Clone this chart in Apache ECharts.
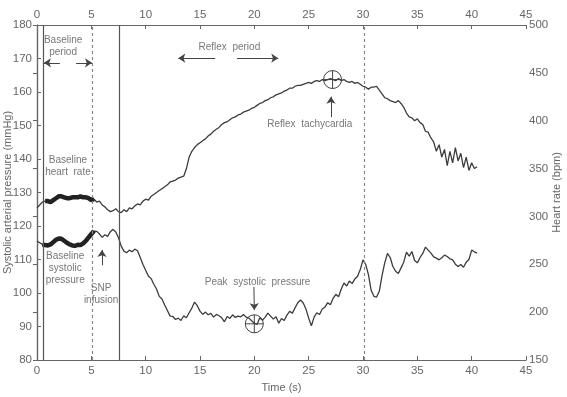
<!DOCTYPE html>
<html>
<head>
<meta charset="utf-8">
<script src="https://cdn.jsdelivr.net/npm/echarts@6/dist/echarts.min.js"></script>
<style>
  html, body { margin: 0; padding: 0; background: #fff; }
  #chart { width: 567px; height: 397px; }
</style>
</head>
<body>
<div id="chart"></div>
<script>
// sampling step of the traces (s)
const step = 0.25;

// heart rate trace (bpm), one value every 0.25 s from t = 0
const heartRate = [
  309, 312, 315, 316,  316, 315, 317, 319,  321, 321, 320, 319,  319, 320, 320, 320,
  321, 320, 320, 319,  317, 318, 315, 316,  312, 310, 307, 305,  306, 308, 305, 304,
  307, 305, 309, 308,  311, 313, 312, 316,  318, 317, 321, 323,  325, 327, 329, 331,
  333, 336, 337, 338,  340, 341, 342, 350,  362, 368, 372, 375,  377, 379, 381, 384,
  386, 389, 391, 393,  396, 398, 399, 401,  403, 404, 406, 407,  409, 410, 411, 413,
  414, 416, 418, 419,  421, 422, 424, 425,  427, 428, 429, 431,  432, 434, 434, 436,
  437, 437, 438, 439,  440, 439, 441, 442,  441, 443, 442, 443,  444, 443, 442, 444,
  442, 443, 441, 440,  441, 439, 440, 438,  436, 435, 433, 435,  435, 436, 432, 428,
  424, 423, 421, 420,  419, 421, 418, 414,  408, 404, 403, 400,  402, 398, 396, 389,
  388, 382, 378, 368,  375, 362, 370, 353,  368, 356, 372, 358,  366, 351, 362, 348,
  356, 350, 352
];

// systolic arterial pressure trace (mmHg), one value every 0.25 s from t = 0
const systolic = [
  115.5, 115.0, 114.5, 114.3,  114.2, 114.5, 115.2, 115.9,  116.3, 116.2, 115.6, 115.0,
  114.5, 114.2, 114.1, 114.4,  114.3, 114.8, 115.6, 116.6,  117.6, 118.5, 118.4, 117.6,
  116.6, 117.4, 116.9, 118.3,  119.0, 118.2, 116.5, 114.0,  112.5, 112.0, 112.8, 112.3,
  113.1, 112.6, 110.6, 108.5,  106.8, 105.1, 104.3, 102.6,  101.2, 99.0, 98.2, 96.4,
  94.8, 93.1, 93.0, 92.1,  92.5, 91.8, 93.2, 92.6,  94.1, 95.5, 97.3, 96.2,
  94.6, 93.6, 94.3, 93.5,  93.9, 92.8, 93.6, 93.2,  92.6, 91.4, 93.0, 92.4,
  93.5, 92.7, 93.1, 92.9,  93.6, 92.8, 92.5, 91.7,  91.0, 90.6, 92.6, 91.9,
  92.8, 94.0, 93.1, 92.2,  92.9, 91.0, 92.4, 91.8,  93.4, 94.5, 94.0, 95.6,
  97.1, 97.9, 97.0, 95.2,  92.5, 90.2, 92.8, 94.1,  93.6, 95.2, 95.8, 97.1,
  96.5, 98.4, 99.6, 98.9,  101.2, 103.0, 102.1, 103.6,  102.8, 104.2, 105.0, 107.0,
  109.9, 108.5, 105.5, 100.8,  99.0, 98.8, 100.5, 105.2,  109.0, 111.8, 110.6, 107.9,
  106.5, 105.8, 107.5, 109.2,  112.2, 111.0, 112.4, 109.7,  109.0, 110.6, 111.8, 113.7,
  112.8, 111.9, 110.8, 110.4,  109.9, 110.5, 111.3, 110.9,  110.2, 109.9, 108.6, 107.9,
  108.5, 107.7, 109.2, 110.0,  112.8, 112.3, 111.9
];

// baseline samples drawn thick (index range)
const baselineStart = 2;
const baselineEnd = 22;

// event markers on the time axis (s)
const solidLines = [0.58, 7.55];
const dashedLines = [5.1, 30.1];

// text notes [time, mmHg]
const notes = [
  ['Baseline\nperiod', 2.4, 173.7],
  ['Reflex  period', 17.7, 173.4],
  ['Reflex  tachycardia', 25.1, 150.4],
  ['Peak  systolic  pressure', 20.3, 103.3],
  ['Baseline\nheart  rate', 2.85, 137.8],
  ['Baseline\nsystolic\npressure', 2.6, 107.4],
  ['SNP\ninfusion', 5.9, 99.6]
];

// arrows [fromTime, fromMmHg, toTime, toMmHg]
const arrows = [
  [2.1, 168.7, 0.64, 168.7],
  [3.6, 168.7, 5.06, 168.7],
  [16.4, 170.1, 13.0, 170.1],
  [18.4, 170.1, 22.2, 170.1],
  [27.05, 152.5, 27.05, 158.6],
  [19.96, 101.8, 20.0, 94.9],
  [5.98, 108.3, 5.98, 112.8]
];

// circled points
const peakHeart = [27.2, 443];
const peakSystolic = [20.0, 90.8];

const toPairs = arr => arr.map((v, i) => [i * step, v]);

const chart = echarts.init(document.getElementById('chart'));

const fontFamily = 'Liberation Sans, Arial, sans-serif';
const grey = '#666';
const traceColor = '#3c3c3c';
const crossCircle = 'path://M0,-10A10,10,0,1,1,0,10A10,10,0,1,1,0,-10ZM0,-10L0,10M-10,0L10,0';

// shared axis look; label margin differs per side
const axisStyle = margin => ({
  axisLine: { show: true, lineStyle: { color: grey, width: 1.2 } },
  axisTick: { show: true, inside: true, length: 4, lineStyle: { color: grey } },
  axisLabel: { color: grey, fontSize: 11.5, fontFamily: fontFamily, margin: margin },
  splitLine: { show: false },
  nameMoveOverlap: false,
  nameTextStyle: { color: grey, fontSize: 11, fontFamily: fontFamily }
});

const option = {
  animation: false,
  backgroundColor: '#fff',
  grid: { left: 37, right: 41, top: 25, bottom: 37, outerBoundsMode: 'none', containLabel: false },
  xAxis: [
    Object.assign(axisStyle(5), {
      type: 'value', min: 0, max: 45, interval: 5, position: 'bottom',
      name: 'Time (s)', nameLocation: 'middle', nameGap: 22
    }),
    Object.assign(axisStyle(4), {
      type: 'value', min: 0, max: 45, interval: 5, position: 'top'
    })
  ],
  yAxis: [
    Object.assign(axisStyle(5), {
      type: 'value', min: 80, max: 180, interval: 10, position: 'left',
      name: 'Systolic arterial pressure (mmHg)', nameLocation: 'middle', nameGap: 24
    }),
    Object.assign(axisStyle(3), {
      type: 'value', min: 150, max: 500, interval: 50, position: 'right',
      name: 'Heart rate (bpm)', nameLocation: 'middle', nameGap: 25
    })
  ],
  series: [
    {
      name: 'Systolic pressure',
      type: 'line',
      xAxisIndex: 0, yAxisIndex: 0,
      data: toPairs(systolic),
      showSymbol: false,
      lineStyle: { color: traceColor, width: 1.3 },
      markLine: {
        silent: true,
        symbol: 'none',
        label: { show: false },
        data: solidLines.map(t => ({ xAxis: t, lineStyle: { color: '#555', type: 'solid', width: 1.2 } }))
          .concat(dashedLines.map(t => ({ xAxis: t, lineStyle: { color: '#888', type: [3, 3], width: 1.2 } })))
      },
      markPoint: {
        silent: true,
        data: notes.map(n => ({
          coord: [n[1], n[2]],
          symbolSize: 0,
          label: {
            show: true, position: 'inside', formatter: n[0],
            color: '#777', fontSize: 10, fontFamily: fontFamily, lineHeight: 12, align: 'center'
          }
        })).concat([{
          coord: peakSystolic, symbol: crossCircle, symbolSize: 18,
          itemStyle: { color: 'rgba(0,0,0,0)', borderColor: '#444', borderWidth: 1 },
          label: { show: false }
        }])
      }
    },
    {
      name: 'Systolic baseline',
      type: 'line',
      xAxisIndex: 0, yAxisIndex: 0,
      data: toPairs(systolic).slice(baselineStart, baselineEnd),
      showSymbol: false,
      lineStyle: { color: '#222', width: 4.5 },
      markLine: {
        silent: true,
        symbol: ['none', 'arrow'],
        symbolSize: 7,
        label: { show: false },
        lineStyle: { color: '#444', type: 'solid', width: 1 },
        data: arrows.map(a => [{ coord: [a[0], a[1]] }, { coord: [a[2], a[3]] }])
      }
    },
    {
      name: 'Heart rate',
      type: 'line',
      xAxisIndex: 0, yAxisIndex: 1,
      data: toPairs(heartRate),
      showSymbol: false,
      lineStyle: { color: traceColor, width: 1.3 },
      markPoint: {
        silent: true,
        data: [{
          coord: peakHeart, symbol: crossCircle, symbolSize: 18,
          itemStyle: { color: 'rgba(0,0,0,0)', borderColor: '#444', borderWidth: 1 },
          label: { show: false }
        }]
      }
    },
    {
      name: 'Heart rate baseline',
      type: 'line',
      xAxisIndex: 0, yAxisIndex: 1,
      data: toPairs(heartRate).slice(baselineStart + 1, baselineEnd),
      showSymbol: false,
      lineStyle: { color: '#222', width: 4.5 }
    }
  ]
};

chart.setOption(option);
</script>
</body>
</html>
